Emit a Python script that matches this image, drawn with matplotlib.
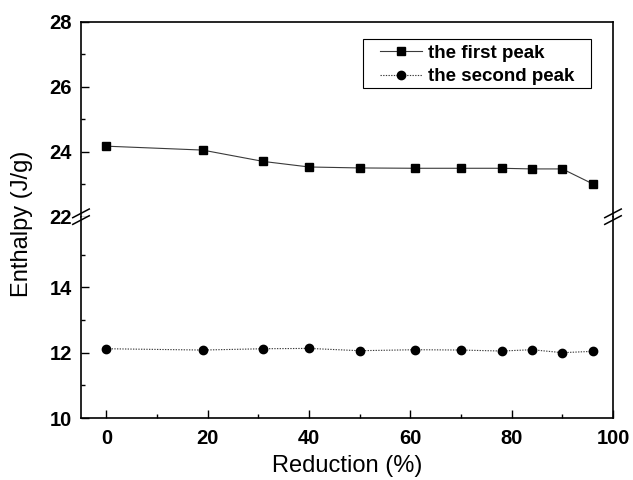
import matplotlib
matplotlib.use("Agg")
import matplotlib.pyplot as plt
from matplotlib.ticker import MultipleLocator, FixedLocator
from matplotlib.patches import Rectangle

reduction = [0, 19, 31, 40, 50, 61, 70, 78, 84, 90, 96]
first_peak = [24.17, 24.05, 23.70, 23.53, 23.50, 23.49, 23.49, 23.49, 23.47, 23.47, 23.01]
second_peak = [12.12, 12.08, 12.12, 12.13, 12.06, 12.09, 12.08, 12.05, 12.09, 12.00, 12.04]
x_ticks = [0, 20, 40, 60, 80, 100]
upper_ticks = [22, 24, 26, 28]
lower_ticks = [10, 12, 14]

plt.rcParams['font.family'] = ['Liberation Sans', 'DejaVu Sans']

W, H = 633, 480
fig = plt.figure(figsize=(W/100, H/100), dpi=100)
L, R = 81/W, 613/W
y_top = 1 - 21.7/H
y_brk = 1 - 216.7/H
y_bot = 1 - 418/H
ax_t = fig.add_axes([L, y_brk, R-L, y_top-y_brk])
ax_b = fig.add_axes([L, y_bot, R-L, y_brk-y_bot], sharex=ax_t)

TICK_FS = 14.5
for ax in (ax_t, ax_b):
    for s in ax.spines.values():
        s.set_linewidth(1.2)
    ax.set_xlim(-5, 100)
    ax.tick_params(which='major', direction='in', length=5.8, width=1.0,
                   right=False, top=False)
    ax.tick_params(which='minor', direction='in', length=3.0, width=1.0,
                   right=False, top=False)
    ax.tick_params(axis='y', pad=6.5)

ax_t.spines['bottom'].set_visible(False)
ax_b.spines['top'].set_visible(False)
ax_t.tick_params(axis='x', which='both', bottom=False, labelbottom=False)

ax_t.set_ylim(22, 28)
ax_t.yaxis.set_major_locator(FixedLocator(upper_ticks))
ax_t.yaxis.set_minor_locator(FixedLocator([23, 25, 27]))
ax_b.set_ylim(10, 10 + (418 - 216.7) / 32.67)
ax_b.yaxis.set_major_locator(FixedLocator(lower_ticks))
ax_b.yaxis.set_minor_locator(FixedLocator([11, 13, 15]))
ax_b.xaxis.set_major_locator(FixedLocator(x_ticks))
ax_b.xaxis.set_minor_locator(MultipleLocator(10))

ax_t.set_yticklabels([str(v) for v in upper_ticks], fontweight='bold', fontsize=TICK_FS)
ax_b.set_yticklabels([str(v) for v in lower_ticks], fontweight='bold', fontsize=TICK_FS)
ax_b.set_xticklabels([str(v) for v in x_ticks], fontweight='bold', fontsize=TICK_FS)
ax_b.tick_params(axis='x', pad=8)

l1, = ax_t.plot(reduction, first_peak, color='#3a3a3a', lw=0.8, marker='s',
                markersize=5.5, markerfacecolor='black', markeredgecolor='black',
                label='the first peak')
l2, = ax_b.plot(reduction, second_peak, color='#3a3a3a', lw=0.8, linestyle=(0, (1.2, 1.2)),
                marker='o', markersize=6, markerfacecolor='black', markeredgecolor='black',
                label='the second peak')

leg = fig.legend(handles=[l1, l2], loc='upper left',
                 bbox_to_anchor=(380/W, 1 - 44.5/H), bbox_transform=fig.transFigure,
                 prop={'weight': 'bold', 'size': 13.5}, frameon=False,
                 handlelength=2.24, handletextpad=0.32,
                 borderpad=0, labelspacing=0.34, borderaxespad=0)
fig.add_artist(Rectangle((363/W, 1 - 88/H), (591-363)/W, (88-39)/H,
                         transform=fig.transFigure, fill=False,
                         edgecolor='black', lw=0.8))

ax_b.set_xlabel('Reduction (%)', fontsize=17, labelpad=5)
fig.text(0.035, 1 - 224/H, 'Enthalpy (J/g)', rotation=90,
         fontsize=17, ha='center', va='center')

# break marks
for xf in (L, R):
    for dy in (-0.004, 0.01):
        fig.add_artist(plt.Line2D([xf - 0.013, xf + 0.013],
                                  [y_brk + dy - 0.012, y_brk + dy + 0.006],
                                  transform=fig.transFigure, color='black', lw=1.1))

fig.savefig('out.png', dpi=100)
